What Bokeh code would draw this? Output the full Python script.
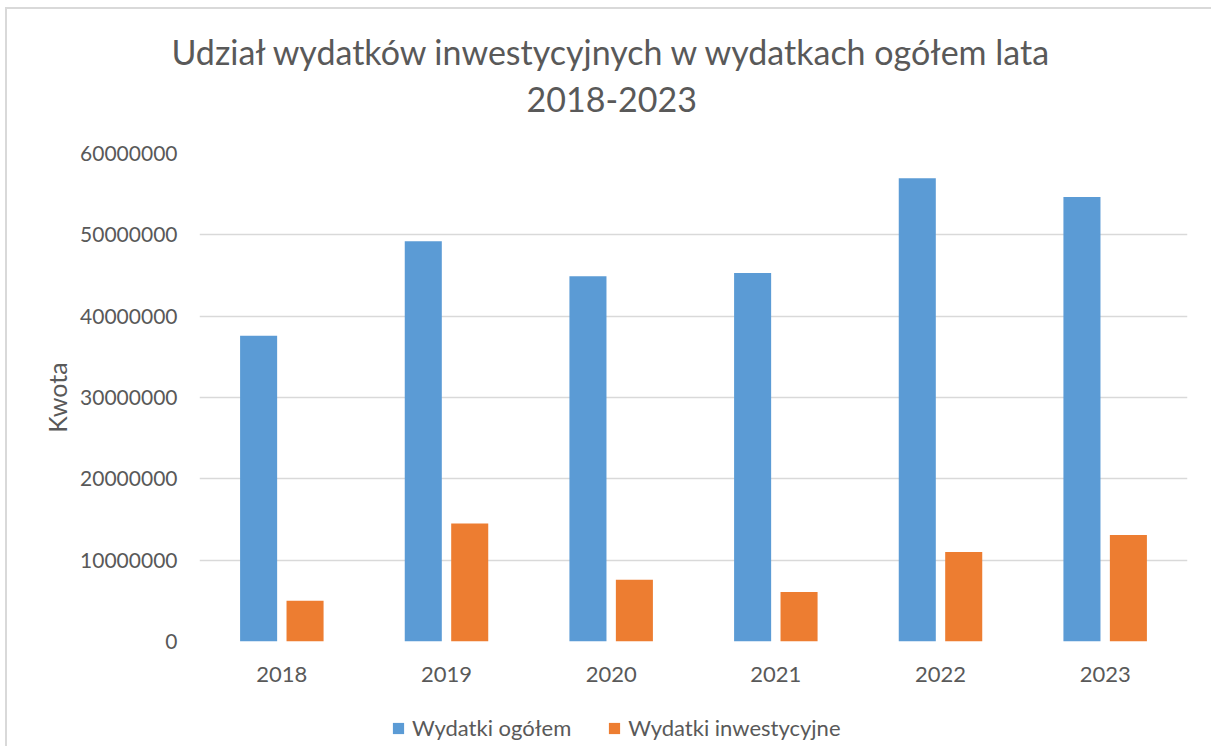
from bokeh.plotting import figure
from bokeh.layouts import column
from bokeh.models import ColumnDataSource, Legend, LegendItem, BasicTickFormatter, FixedTicker, Title, Range1d
from bokeh.transform import dodge
from bokeh.embed import file_html
from bokeh.resources import INLINE

years = ["2018", "2019", "2020", "2021", "2022", "2023"]
wydatki_ogolem = [37600000, 49200000, 44900000, 45300000, 56950000, 54650000]
wydatki_inwestycyjne = [5000000, 14500000, 7600000, 6100000, 11000000, 13100000]
y_ticks = [0, 10000000, 20000000, 30000000, 40000000, 50000000, 60000000]
series_names = ["Wydatki ogółem", "Wydatki inwestycyjne"]
title_lines = ["Udział wydatków inwestycyjnych w wydatkach ogółem lata", "2018-2023"]

FONT = "Lato"
TXT = "#595959"
BLUE = "#5B9BD5"
ORANGE = "#ED7D31"

src = ColumnDataSource(dict(year=years, total=wydatki_ogolem, inv=wydatki_inwestycyjne))

p = figure(x_range=years, y_range=(0, 60000000), frame_width=988, frame_height=488,
           output_backend="svg", toolbar_location=None,
           min_border_left=192, min_border_right=24, min_border_top=144, min_border_bottom=60)
p.x_range.range_padding = 0
p.title = None

r1 = p.vbar(x=dodge("year", -0.141, range=p.x_range), top="total", width=0.225,
            source=src, fill_color=BLUE, line_color=None)
r2 = p.vbar(x=dodge("year", 0.141, range=p.x_range), top="inv", width=0.225,
            source=src, fill_color=ORANGE, line_color=None)

t2 = Title(text=title_lines[1], align="left", offset=327, standoff=84,
           text_font=FONT, text_font_size="34px", text_font_style="normal", text_color=TXT,
           text_line_height=0.96)
t1 = Title(text=title_lines[0], align="left", offset=-28, standoff=-59,
           text_font=FONT, text_font_size="34px", text_font_style="normal", text_color=TXT)
p.add_layout(t2, "above")
p.add_layout(t1, "above")

p.outline_line_color = None
p.xgrid.grid_line_color = None
p.ygrid.grid_line_color = "#d9d9d9"
p.ygrid.grid_line_width = 1.5

p.yaxis.ticker = FixedTicker(ticks=y_ticks)
p.yaxis.formatter = BasicTickFormatter(use_scientific=False)
for ax in (p.xaxis[0], p.yaxis[0]):
    ax.axis_line_color = None
    ax.major_tick_line_color = None
    ax.minor_tick_line_color = None
    ax.major_label_text_font = FONT
    ax.major_label_text_color = TXT
p.yaxis.major_label_text_font_size = "21px"
p.xaxis.major_label_text_font_size = "22px"
p.yaxis.major_label_standoff = 16
p.xaxis.major_label_standoff = 19
p.yaxis.axis_label = "Kwota"
p.yaxis.axis_label_text_font = FONT
p.yaxis.axis_label_text_font_size = "25px"
p.yaxis.axis_label_text_font_style = "normal"
p.yaxis.axis_label_text_color = TXT
p.yaxis.axis_label_standoff = 5

# legend strip below the chart (its frame is aligned with the chart's frame by the column)
lg = figure(width=1204, height=45, x_range=p.x_range, y_range=Range1d(70000000, 71000000),
            output_backend="svg", toolbar_location=None,
            min_border_left=0, min_border_right=0, min_border_top=0, min_border_bottom=0)
lg.axis.visible = False
lg.grid.visible = False
lg.outline_line_color = None
lr1 = lg.vbar(x="year", top="total", width=0.225, source=src, fill_color=BLUE, line_color=None)
lr2 = lg.vbar(x="year", top="inv", width=0.225, source=src, fill_color=ORANGE, line_color=None)
legend = Legend(items=[LegendItem(label=series_names[0], renderers=[lr1]),
                       LegendItem(label=series_names[1], renderers=[lr2])],
                orientation="horizontal", location=(192, 5),
                label_text_font=FONT, label_text_font_size="22px", label_text_color=TXT,
                glyph_width=14, glyph_height=14, label_standoff=7, spacing=36,
                border_line_color=None, background_fill_alpha=0, margin=0, padding=2)
lg.add_layout(legend, "center")

layout = column(p, lg, spacing=0,
                styles={"border-left": "2px solid #d9d9d9", "border-top": "2px solid #d9d9d9",
                        "margin-left": "5px", "margin-top": "7px"})

open("out.html", "w").write(file_html(layout, INLINE))
